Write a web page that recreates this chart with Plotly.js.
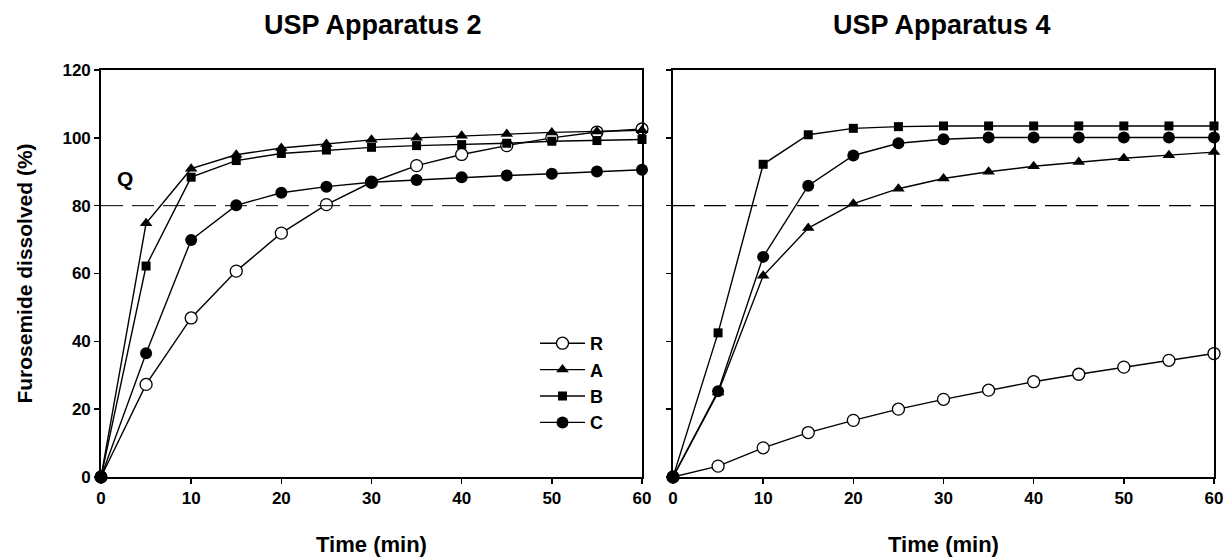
<!DOCTYPE html>
<html>
<head>
<meta charset="utf-8">
<script src="https://cdn.plot.ly/plotly-3.0.1.min.js"></script>
<style>html,body{margin:0;padding:0;background:#fff;}#chart{width:1227px;height:557px;}</style>
</head>
<body>
<div id="chart"></div>
<script>
// Time points (min)
const time = [0, 5, 10, 15, 20, 25, 30, 35, 40, 45, 50, 55, 60];
const seriesNames = ["R", "A", "B", "C"];

// USP Apparatus 2 (% dissolved)
const app2_R = [0, 27.3, 46.9, 60.7, 71.9, 80.3, 86.9, 91.8, 95.1, 97.7, 100.0, 101.7, 102.6];
const app2_A = [0, 74.8, 90.9, 95.0, 97.0, 98.2, 99.4, 100.0, 100.6, 101.1, 101.6, 101.9, 102.2];
const app2_B = [0, 62.2, 88.4, 93.3, 95.4, 96.4, 97.2, 97.7, 98.0, 98.4, 99.0, 99.2, 99.5];
const app2_C = [0, 36.5, 69.9, 80.1, 83.8, 85.6, 86.9, 87.6, 88.4, 88.9, 89.4, 90.1, 90.6];

// USP Apparatus 4 (% dissolved)
const app4_R = [0, 3.2, 8.6, 13.1, 16.7, 20.0, 22.9, 25.6, 28.1, 30.3, 32.4, 34.4, 36.4];
const app4_A = [0, 24.9, 59.3, 73.4, 80.6, 85.0, 88.0, 90.0, 91.6, 92.9, 94.0, 94.9, 95.8];
const app4_B = [0, 42.5, 92.2, 100.9, 102.8, 103.3, 103.5, 103.5, 103.5, 103.5, 103.5, 103.5, 103.5];
const app4_C = [0, 25.3, 64.9, 85.9, 94.8, 98.4, 99.6, 100.1, 100.1, 100.1, 100.1, 100.1, 100.1];

// Q reference level
const qLevel = 80;
const tickVals = [0, 10, 20, 30, 40, 50, 60];
const yTickVals = [0, 20, 40, 60, 80, 100, 120];

const FONT = "Arial, 'Liberation Sans', sans-serif";
const markerStyles = {
  R: {symbol: "circle", size: 12, color: "#ffffff", line: {color: "#000", width: 1.3}},
  A: {symbol: "triangle-up", size: 11, color: "#000", line: {color: "#000", width: 0}},
  B: {symbol: "square", size: 9, color: "#000", line: {color: "#000", width: 0}},
  C: {symbol: "circle", size: 12, color: "#000", line: {color: "#000", width: 0}}
};

function mk(name, y, xa, ya, showlegend) {
  return {
    x: time, y: y, xaxis: xa, yaxis: ya, name: name, type: "scatter",
    mode: "lines+markers", cliponaxis: false,
    line: {color: "#000", width: 1.4},
    marker: markerStyles[name],
    showlegend: showlegend, legendgroup: name
  };
}

const app2 = {R: app2_R, A: app2_A, B: app2_B, C: app2_C};
const app4 = {R: app4_R, A: app4_A, B: app4_B, C: app4_C};
const traces = [];
seriesNames.forEach(n => traces.push(mk(n, app2[n], "x", "y", true)));
seriesNames.forEach(n => traces.push(mk(n, app4[n], "x2", "y2", false)));

// Q dashed reference lines through the library scales
traces.push({x: [time[0], time[time.length-1]], y: [qLevel, qLevel], xaxis: "x", yaxis: "y",
  mode: "lines", line: {color: "#000", width: 1, dash: "22px,9px"}, showlegend: false, hoverinfo: "skip"});
traces.push({x: [time[0], time[time.length-1]], y: [qLevel, qLevel], xaxis: "x2", yaxis: "y2",
  mode: "lines", line: {color: "#000", width: 1.4, dash: "22px,9px"}, showlegend: false, hoverinfo: "skip"});

const tickFont = {family: FONT, size: 17, color: "#000", weight: "bold"};
const titleFont = {family: FONT, size: 22, color: "#000", weight: "bold"};

function xax(domain, anchor) {
  return {
    domain: domain, anchor: anchor, range: [0, 60], tickvals: tickVals,
    ticks: "outside", ticklen: 5, tickwidth: 1.5, tickcolor: "#000",
    showline: true, linecolor: "#000", linewidth: 1.8, mirror: true,
    showgrid: false, zeroline: false, tickfont: tickFont,
    title: {text: "Time (min)", font: titleFont, standoff: 32}, automargin: false
  };
}
function yax(domain, anchor, labels) {
  return {
    domain: domain, anchor: anchor, range: [0, 120], tickvals: yTickVals,
    showticklabels: labels,
    ticks: "outside", ticklen: 5, tickwidth: 1.5, tickcolor: "#000",
    showline: true, linecolor: "#000", linewidth: 1.8, mirror: true,
    showgrid: false, zeroline: false, tickfont: tickFont, automargin: false
  };
}

const yDom = [80/557, 487/557];
const layout = {
  width: 1227, height: 557,
  margin: {l: 0, r: 0, t: 0, b: 0},
  paper_bgcolor: "#fff", plot_bgcolor: "#fff",
  font: {family: FONT, color: "#000"},
  xaxis: xax([101/1227, 642/1227], "y"),
  yaxis: Object.assign(yax(yDom, "x", true), {title: {text: "Furosemide dissolved (%)", font: {family: FONT, size: 21, color: "#000", weight: "bold"}, standoff: 24}}),
  xaxis2: xax([673/1227, 1214/1227], "y2"),
  yaxis2: yax(yDom, "x2", false),
  showlegend: true,
  legend: {
    x: 535/1227, y: (557-325)/557, xanchor: "left", yanchor: "top",
    bgcolor: "rgba(0,0,0,0)", borderwidth: 0,
    font: {family: FONT, size: 18, color: "#000", weight: "bold"},
    traceorder: "grouped", tracegroupgap: 0, itemwidth: 45
  },
  annotations: [
    {text: "USP Apparatus 2", xref: "paper", yref: "paper", x: 373/1227, y: (557-25)/557,
     xanchor: "center", yanchor: "middle", showarrow: false,
     font: {family: FONT, size: 27, color: "#000", weight: "bold"}},
    {text: "USP Apparatus 4", xref: "paper", yref: "paper", x: 942/1227, y: (557-25)/557,
     xanchor: "center", yanchor: "middle", showarrow: false,
     font: {family: FONT, size: 27, color: "#000", weight: "bold"}},
    {text: "Q", xref: "x", yref: "y", x: 2.7, y: 88, xanchor: "center", yanchor: "middle",
     showarrow: false, font: {family: FONT, size: 21, color: "#000", weight: "bold"}}
  ]
};

Plotly.newPlot("chart", traces, layout, {staticPlot: true, displayModeBar: false});
</script>
</body>
</html>
